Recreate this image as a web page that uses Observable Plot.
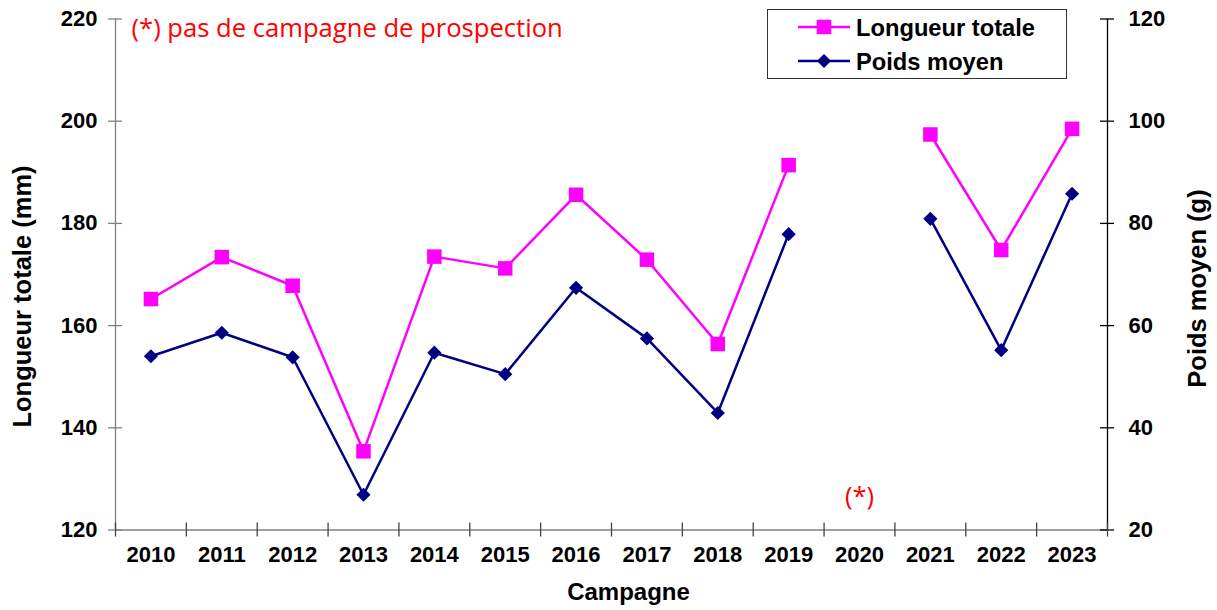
<!DOCTYPE html>
<html><head><meta charset="utf-8">
<script src="https://cdn.jsdelivr.net/npm/d3@7"></script>
<script src="https://cdn.jsdelivr.net/npm/@observablehq/plot@0.6"></script>
<style>
body{margin:0;background:#fff}
#wrap{position:relative;width:1217px;height:610px}
#legend{position:absolute;left:767px;top:9px;width:300px;height:70px;box-sizing:border-box;border:1px solid #333;background:#fff}
</style>
</head><body><div id="wrap"></div>
<script>
const years = [2010,2011,2012,2013,2014,2015,2016,2017,2018,2019,2020,2021,2022,2023];
const longueur = [165.2,173.4,167.8,135.4,173.5,171.2,185.6,172.9,156.4,191.4,null,197.4,174.8,198.5];
const poids = [54.0,58.6,53.8,26.9,54.7,50.5,67.4,57.5,42.9,77.9,null,80.9,55.2,85.8];
const leftTicks = [120,140,160,180,200,220];
const rightTicks = [20,40,60,80,100,120];
const seriesNames = ["Longueur totale","Poids moyen"];
const colors = ["#FF00FF","#000080"];
const missingYear = 2020;
const noteText = "(*) pas de campagne de prospection";
const noteMark = "(*)";
const yLeftTitle = "Longueur totale (mm)";
const yRightTitle = "Poids moyen (g)";
const xTitle = "Campagne";
const yLeftDomain = [120,220];
const yRightDomain = [20,120];

const offset = yLeftDomain[0] - yRightDomain[0];
const xDom = [years[0]-0.5, years[years.length-1]+0.5];
const bounds = d3.range(years.length+1).map(i => xDom[0]+i);
const rowsL = years.map((yr,i)=>({year:yr, v: longueur[i] ?? NaN}));
const rowsP = years.map((yr,i)=>({year:yr, v: poids[i] == null ? NaN : poids[i] + offset}));

const font = "Liberation Sans, Arial, sans-serif";
const noteFont = "Open Sans, sans-serif";

const chart = Plot.plot({
  width: 1217, height: 610,
  marginLeft: 115, marginRight: 110, marginTop: 18.5, marginBottom: 80.5,
  style: {fontFamily: font, fontWeight: "bold", background: "#fff", overflow: "visible"},
  x: {domain: xDom},
  y: {domain: yLeftDomain},
  marks: [
    Plot.ruleX([xDom[0]], {stroke: "#808080", strokeWidth: 1.3}),
    Plot.ruleX([xDom[1]], {stroke: "#000", strokeWidth: 1.3}),
    Plot.ruleY([yLeftDomain[0]], {stroke: "#808080", strokeWidth: 1.3}),
    Plot.ruleY(leftTicks, {y: d=>d, x1: xDom[0], x2: xDom[0], insetLeft: -7, insetRight: -7, stroke: "#808080", strokeWidth: 1.3}),
    Plot.ruleY(rightTicks.map(d=>d+offset), {y: d=>d, x1: xDom[1], x2: xDom[1], insetLeft: -7, insetRight: -7, stroke: "#000", strokeWidth: 1.3}),
    Plot.ruleX(bounds, {x: d=>d, y1: yLeftDomain[0], y2: yLeftDomain[0], insetTop: -7, insetBottom: -7, stroke: "#444", strokeWidth: 1.3}),
    Plot.axisY(leftTicks, {anchor: "left", tickSize: 0, tickPadding: 18, fontSize: 22, fontWeight: "bold", label: null}),
    Plot.axisY(rightTicks.map(d=>d+offset), {anchor: "right", tickSize: 0, tickPadding: 21, tickFormat: d => String(d-offset), fontSize: 22, fontWeight: "bold", label: null}),
    Plot.axisX(years, {anchor: "bottom", tickSize: 0, tickPadding: 16, tickFormat: d => String(d), fontSize: 22, fontWeight: "bold", label: null}),
    Plot.line(rowsL, {x: "year", y: "v", stroke: colors[0], strokeWidth: 2.5}),
    Plot.line(rowsP, {x: "year", y: "v", stroke: colors[1], strokeWidth: 2.5}),
    Plot.dot(rowsL, {x: "year", y: "v", symbol: "square", r: 8.2, fill: colors[0], stroke: "none"}),
    Plot.dot(rowsP, {x: "year", y: "v", symbol: "diamond2", r: 6.4, fill: colors[1], stroke: "none"}),
    Plot.text([noteText], {frameAnchor: "top-left", dx: 16, dy: 9.5, textAnchor: "start", lineAnchor: "middle", fill: "#FF0000", fontSize: 25.6, fontFamily: noteFont, fontWeight: "normal"}),
    Plot.text([noteMark], {x: () => missingYear, frameAnchor: "bottom", dy: -33.5, textAnchor: "middle", lineAnchor: "middle", fill: "#FF0000", fontSize: 25.6, fontFamily: noteFont, fontWeight: "normal"}),
    Plot.text([yLeftTitle], {frameAnchor: "left", dx: -93, dy: 22, rotate: -90, textAnchor: "middle", lineAnchor: "middle", fontSize: 25.5, fontWeight: "bold"}),
    Plot.text([yRightTitle], {frameAnchor: "right", dx: 90, dy: 14, rotate: -90, textAnchor: "middle", lineAnchor: "middle", fontSize: 25.5, fontWeight: "bold"}),
    Plot.text([xTitle], {frameAnchor: "bottom", dx: 17, dy: 62.5, textAnchor: "middle", lineAnchor: "middle", fontSize: 24, fontWeight: "bold"})
  ]
});
const wrap = document.getElementById("wrap");
wrap.appendChild(chart);

// legend overlay
const leg = d3.select(wrap).append("div").attr("id","legend");
const svg = leg.append("svg").attr("width",298).attr("height",68).style("display","block");
const rowY = [17, 51];
seriesNames.forEach((name,i)=>{
  const g = svg.append("g").attr("transform",`translate(0,${rowY[i]})`);
  g.append("line").attr("x1",30).attr("x2",82).attr("stroke",colors[i]).attr("stroke-width",2.5);
  const sym = i===0 ? d3.symbolSquare : d3.symbolDiamond2;
  const size = i===0 ? Math.PI*8.2*8.2 : Math.PI*6.4*6.4;
  g.append("path").attr("transform","translate(56,0)").attr("d", d3.symbol(sym, size)()).attr("fill",colors[i]);
  g.append("text").attr("x",88).attr("dy","0.36em").attr("font-family",font).attr("font-weight","bold").attr("font-size",23.7).text(name);
});
</script>
</body></html>
